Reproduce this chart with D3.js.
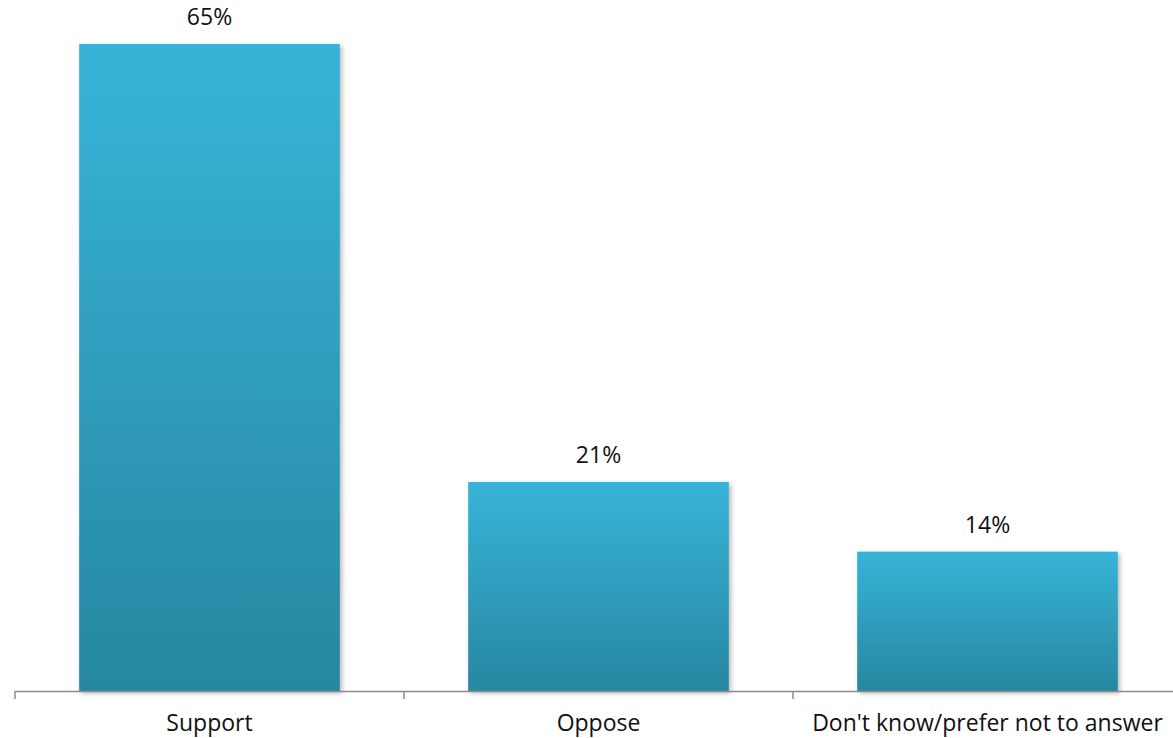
<!DOCTYPE html>
<html>
<head>
<meta charset="utf-8">
<script src="https://cdn.jsdelivr.net/npm/d3@7"></script>
<style>
  html, body { margin: 0; padding: 0; background: #ffffff; }
  svg { display: block; }
  text { font-family: "Open Sans", "Noto Sans", sans-serif; fill: #111; }
</style>
</head>
<body>
<svg id="chart" width="1173" height="738"></svg>
<script>
// Survey responses (percent)
const categories = ["Support", "Oppose", "Don't know/prefer not to answer"];
const values = [65, 21, 14];
const valueLabels = ["65%", "21%", "14%"];

const width = 1173, height = 738;
const margin = { left: 15, right: -9, top: 44, bottom: 47 };

const svg = d3.select("#chart");

const x = d3.scaleBand()
  .domain(categories)
  .range([margin.left, width - margin.right])
  .paddingInner(0.33)
  .paddingOuter(0.165);

const y = d3.scaleLinear()
  .domain([0, 65])
  .range([height - margin.bottom, margin.top]);

const defs = svg.append("defs");

const grad = defs.append("linearGradient")
  .attr("id", "barFill")
  .attr("x1", 0).attr("y1", 0).attr("x2", 0).attr("y2", 1);
grad.append("stop").attr("offset", "0%").attr("stop-color", "#37b4d8");
grad.append("stop").attr("offset", "100%").attr("stop-color", "#2787a1");

const shadow = defs.append("filter")
  .attr("id", "barShadow")
  .attr("x", "-10%").attr("y", "-10%")
  .attr("width", "130%").attr("height", "130%");
shadow.append("feDropShadow")
  .attr("dx", 2).attr("dy", 2)
  .attr("stdDeviation", 2.5)
  .attr("flood-color", "#000")
  .attr("flood-opacity", 0.3);

// Bars
svg.append("g")
  .selectAll("rect")
  .data(values)
  .join("rect")
  .attr("x", (d, i) => x(categories[i]))
  .attr("y", d => y(d))
  .attr("width", x.bandwidth())
  .attr("height", d => y(0) - y(d))
  .attr("fill", "url(#barFill)")
  .attr("filter", "url(#barShadow)");

// Category axis
const axisY = y(0);
const axis = svg.append("g");
axis.append("line")
  .attr("x1", margin.left).attr("x2", width)
  .attr("y1", axisY + 0.5).attr("y2", axisY + 0.5)
  .attr("stroke", "#8c8c8c").attr("stroke-width", 1.5);

const tickXs = d3.range(categories.length + 1).map(i => margin.left + i * (width - margin.right - margin.left) / categories.length);
axis.selectAll("line.tick")
  .data(tickXs)
  .join("line")
  .attr("class", "tick")
  .attr("x1", d => d).attr("x2", d => d)
  .attr("y1", axisY).attr("y2", axisY + 8)
  .attr("stroke", "#8c8c8c").attr("stroke-width", 1.5);

axis.selectAll("text")
  .data(categories)
  .join("text")
  .attr("x", d => x(d) + x.bandwidth() / 2)
  .attr("y", 731)
  .attr("text-anchor", "middle")
  .style("font-size", "23px")
  .text(d => d);

// Value labels
svg.append("g")
  .selectAll("text")
  .data(values)
  .join("text")
  .attr("x", (d, i) => x(categories[i]) + x.bandwidth() / 2)
  .attr("y", d => y(d) - 19)
  .attr("text-anchor", "middle")
  .style("font-size", "23px")
  .text((d, i) => valueLabels[i]);
</script>
</body>
</html>
